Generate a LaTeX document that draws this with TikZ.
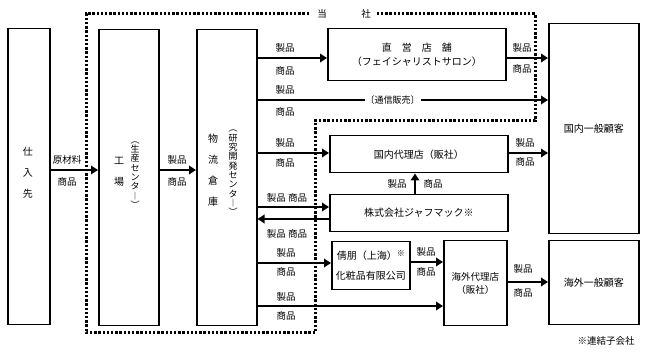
\documentclass[tikz,border=0pt]{standalone}
\usepackage{fontspec}
\setmainfont{Noto Sans CJK JP}
\usetikzlibrary{arrows.meta}
\begin{document}
\begin{tikzpicture}[x=1pt,y=-1pt,
  box/.style={draw, line width=1.5pt, inner sep=0pt, anchor=north west, align=center, font=\fontsize{10}{14}\selectfont},
  arr/.style={line width=2.2pt, -{Triangle[length=7pt,width=8.5pt]}},
  lbl/.style={inner sep=0pt, font=\fontsize{9.5}{11}\selectfont},
  vtxt/.style={inner sep=0pt, align=center, font=\fontsize{10}{21}\selectfont},
  vpar/.style={inner sep=0pt, align=center, font=\fontsize{9}{9.3}\selectfont},
  dots/.style={line width=3pt, dash pattern=on 2.4pt off 1.8pt}
]
\useasboundingbox (0,0) rectangle (645,352);

% boxes
\node[box, minimum width=42pt, minimum height=296pt] (shiire) at (7,28) {};
\node[box, minimum width=60pt, minimum height=296pt] (kojo) at (98,29) {};
\node[box, minimum width=60pt, minimum height=296pt] (soko) at (196,29) {};
\node[box, minimum width=178pt, minimum height=52pt] (chokuei) at (327,28) {直　営　店　舗\\（フェイシャリストサロン）};
\node[box, minimum width=90pt, minimum height=210pt] (kokunaikyaku) at (548,23) {国内一般顧客};
\node[box, minimum width=178pt, minimum height=37pt] (dairiten) at (329,135) {国内代理店（販社）};
\node[box, minimum width=178pt, minimum height=37pt] (jafmac) at (329,194) {株式会社ジャフマック※};
\node[box, minimum width=78pt, minimum height=48pt, font=\fontsize{10}{20}\selectfont] (qianpeng) at (331,241) {倩朋（上海）\raisebox{3pt}{\fontsize{8}{8}\selectfont ※}\\化粧品有限公司};
\node[box, minimum width=63pt, minimum height=85pt, font=\fontsize{9.5}{12.5}\selectfont] (kaigaidairi) at (443,240) {海外代理店\\（販社）};
\node[box, minimum width=90pt, minimum height=84pt] (kaigaikyaku) at (548,240) {海外一般顧客};

% vertical texts
\node[vtxt] (t-shiire) at (28,173) {仕\\入\\先};
\node[vtxt] (t-kojo) at (119,172) {工\\場};
\node[vpar] (p-kojo) at (135,175) {︵\\生\\産\\セ\\ン\\タ\\︱\\︶};
\node[vtxt] (t-soko) at (213,170) {物\\流\\倉\\庫};
\node[vpar] (p-soko) at (233,173) {︵\\研\\究\\開\\発\\セ\\ン\\タ\\︱\\︶};

% arrows
\draw[arr] (shiire.east |- 0,170) -- (kojo.west |- 0,170);
\draw[arr] (kojo.east |- 0,170) -- (soko.west |- 0,170);
\draw[arr] (soko.east |- 0,58) -- (chokuei.west |- 0,58);
\draw[arr] (soko.east |- 0,100) -- node[pos=0.465, fill=white, inner sep=1pt, font=\fontsize{9}{10}\selectfont] (tsushin) {〔通信販売〕} (kokunaikyaku.west |- 0,100);
\draw[arr] (soko.east |- 0,153) -- (dairiten.west |- 0,153);
\draw[arr] (soko.east |- 0,207) -- (jafmac.west |- 0,207);
\draw[arr] (jafmac.west |- 0,219) -- (soko.east |- 0,219);
\draw[arr] (soko.east |- 0,263) -- (qianpeng.west |- 0,263);
\draw[arr] (soko.east |- 0,306) -- (kaigaidairi.west |- 0,306);
\draw[arr] (chokuei.east |- 0,58) -- (kokunaikyaku.west |- 0,58);
\draw[arr] (dairiten.east |- 0,153) -- (kokunaikyaku.west |- 0,153);
\draw[arr] (jafmac.north -| 415,0) -- (dairiten.south -| 415,0);
\draw[arr] (qianpeng.east |- 0,262) -- (kaigaidairi.west |- 0,262);
\draw[arr] (kaigaidairi.east |- 0,282) -- (kaigaikyaku.west |- 0,282);

% labels
\node[lbl] (l1a) at (67,160) {原材料};
\node[lbl] (l1b) at (67,182) {商品};
\node[lbl] (l2a) at (177,160) {製品};
\node[lbl] (l2b) at (177,182) {商品};
\node[lbl] (l3a) at (285,48) {製品};
\node[lbl] (l3b) at (285,71) {商品};
\node[lbl] (l4a) at (285,90) {製品};
\node[lbl] (l4b) at (285,112) {商品};
\node[lbl] (l5a) at (285,143) {製品};
\node[lbl] (l5b) at (285,163) {商品};
\node[lbl] (l6) at (287,198) {製品 商品};
\node[lbl] (l7) at (287,234) {製品 商品};
\node[lbl] (l8a) at (286,253) {製品};
\node[lbl] (l8b) at (286,272) {商品};
\node[lbl] (l9a) at (286,297) {製品};
\node[lbl] (l9b) at (286,316) {商品};
\node[lbl] (l10a) at (522,48) {製品};
\node[lbl] (l10b) at (522,69) {商品};
\node[lbl] (l11a) at (525,143) {製品};
\node[lbl] (l11b) at (525,162) {商品};
\node[lbl] (l12a) at (397,184) {製品};
\node[lbl] (l12b) at (433,184) {商品};
\node[lbl] (l13a) at (426,252) {製品};
\node[lbl] (l13b) at (426,272) {商品};
\node[lbl] (l14a) at (523,269) {製品};
\node[lbl] (l14b) at (523,293) {商品};

% company boundary
\draw[dots] (309,14) -- (86,14) -- (86,333) -- (315,333) -- (315,121) -- (535,121) -- (535,14) -- (376,14);
\node[lbl] (to) at (322,14) {当};
\node[lbl] (sha) at (366,14) {社};

\node[lbl] (note) at (606,341) {※連結子会社};
\end{tikzpicture}
\end{document}
